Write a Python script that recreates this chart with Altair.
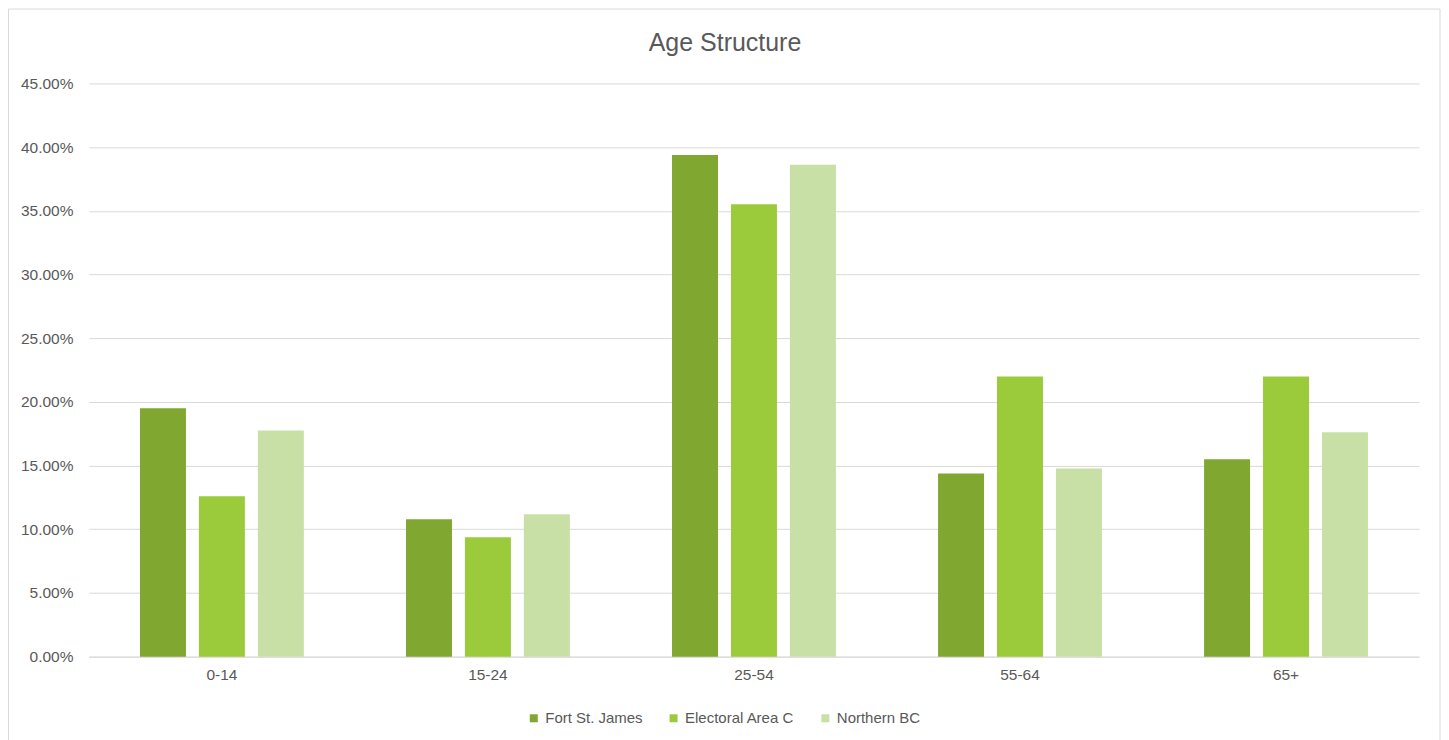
import altair as alt
import pandas as pd

title_text = "Age Structure"
categories = ["0-14", "15-24", "25-54", "55-64", "65+"]
series = ["Fort St. James", "Electoral Area C", "Northern BC"]
fort_st_james = [0.195, 0.1078, 0.3938, 0.1438, 0.155]
electoral_area_c = [0.126, 0.0937, 0.3552, 0.22, 0.22]
northern_bc = [0.1775, 0.1117, 0.3862, 0.1477, 0.1762]
colors = ["#80A72F", "#9BCB3B", "#C8E0A6"]

rows = []
for name, vals in zip(series, [fort_st_james, electoral_area_c, northern_bc]):
    for c, v in zip(categories, vals):
        rows.append({"Age": c, "Series": name, "Value": v})
df = pd.DataFrame(rows)

W, H = 1332, 574
FONT = "Liberation Sans"
GRAY = "#595959"

bars = alt.Chart(df).mark_bar().encode(
    x=alt.X("Age:N", sort=categories, title=None,
            scale=alt.Scale(paddingInner=0.384, paddingOuter=0.192),
            axis=alt.Axis(labelAngle=0, labelColor=GRAY, labelFont=FONT, labelFontSize=15.5,
                          ticks=False, domainColor="#d9d9d9", labelPadding=11, grid=False)),
    xOffset=alt.XOffset("Series:N", sort=series,
                        scale=alt.Scale(paddingInner=0.22, paddingOuter=0)),
    y=alt.Y("Value:Q", title=None,
            scale=alt.Scale(domain=[0, 0.45]),
            axis=alt.Axis(format=".2%", values=[i * 0.05 for i in range(10)],
                          labelColor=GRAY, labelFont=FONT, labelFontSize=15.5,
                          ticks=False, domain=False, gridColor="#d9d9d9", labelPadding=16)),
    color=alt.Color("Series:N", sort=series,
                    scale=alt.Scale(domain=series, range=colors),
                    legend=alt.Legend(title=None, orient="none", direction="horizontal",
                                      legendX=438, legendY=628, symbolType="square",
                                      symbolSize=64, symbolStrokeWidth=0, padding=0,
                                      labelFont=FONT, labelFontSize=15, labelColor=GRAY,
                                      columnPadding=23, labelOffset=4)),
)

border = alt.Chart(pd.DataFrame({"a": [0]})).mark_rect(
    fill=None, stroke="#d9d9d9", strokeWidth=1
).encode(x=alt.value(-80.5), x2=alt.value(1353), y=alt.value(-74.5), y2=alt.value(700))

title = alt.Chart(pd.DataFrame({"t": [title_text]})).mark_text(
    font=FONT, fontSize=25, color=GRAY, align="center", baseline="alphabetic"
).encode(text="t:N", x=alt.value(637), y=alt.value(-32.5))

chart = alt.layer(border, bars, title).properties(
    width=W, height=H,
    autosize=alt.AutoSizeParams(type="pad"),
    padding=0,
    background="white",
).configure_view(strokeWidth=0, stroke="transparent")

chart.save("out.html", embed_options={"renderer": "svg", "actions": False})
